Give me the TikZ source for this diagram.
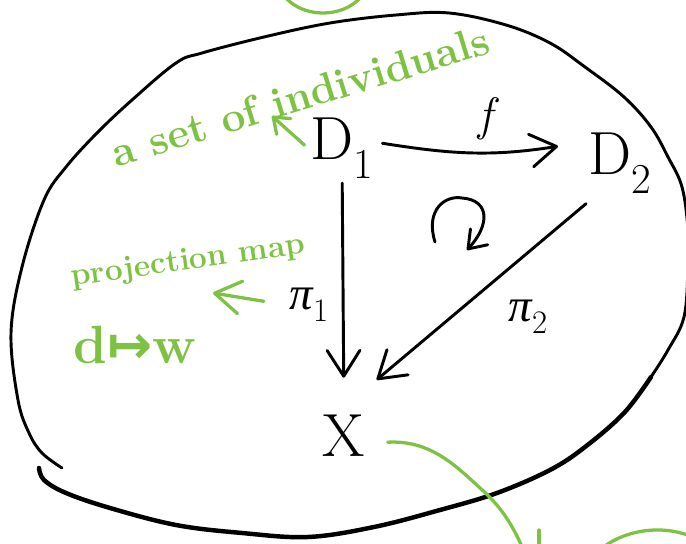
\documentclass[tikz,border=0pt]{standalone}
\usepackage{fontspec}
\usepackage{tikz}
\usepackage{xcolor}
\usetikzlibrary{calc}
\usetikzlibrary{arrows.meta}
\newfontfamily\greekfont{Liberation Serif}
\newfontfamily\arrowfont{DejaVu Sans}
\definecolor{pengreen}{RGB}{125,194,66}
\tikzset{>={Straight Barb[length=22pt,width=28pt,round]}}
\tikzstyle{blackink} = [line width=2.5pt, line cap=round, line join=round]
\tikzstyle{greenink} = [draw=pengreen, line width=2.8pt, line cap=round, line join=round]
\tikzstyle{arrow} = [blackink,->]
\tikzstyle{greenarrow} = [greenink,->]
\tikzstyle{smallgreenarrow} = [greenink,-{Straight Barb[length=12pt,width=18pt,round]}]
\tikzstyle{obj} = [font=\fontsize{52}{52}\selectfont, inner sep=2pt]
\tikzstyle{maplabel} = [font=\fontsize{40}{40}\selectfont, inner sep=2pt]
\tikzstyle{note} = [text=pengreen, inner sep=0pt]

\begin{document}
\begin{tikzpicture}[x=.03cm, y=-.03cm]
    \useasboundingbox (0,0) rectangle (686,544);
    \clip (0,0) rectangle (686,544);

    \draw[blackink] plot[smooth, tension=.6] coordinates {(62,468) (42,453) (29,433) (18,400) (11,333) (22,267) (44,200) (66,167) (97,133) (132,100) (176,63) (202,53) (264,37) (330,23) (396,15) (449,13) (506,25) (550,43) (585,67) (624,97) (651,127) (668,157) (682,187) (688,230) (688,267) (684,317) (668,350) (651,377)};
    \draw[blackink, line width=3.8pt] plot[smooth, tension=.6] coordinates {(651,377) (624,413) (585,447) (550,470) (497,493) (440,510) (374,527) (308,537) (242,533) (176,525) (110,508) (66,493) (44,480) (39,468)};

    \node[obj, anchor=base west] (d1) at (308,160) {D\textsubscript{1}};
    \node[obj, anchor=base west] (d2) at (586,175) {D\textsubscript{2}};
    \node[obj, anchor=base] (x) at (344,457) {X};
    \node[maplabel, anchor=base] (f) at (489,131) {\textit{f}};
    \node[maplabel, anchor=base west] (pi1) at (287,310) {{\greekfont\itshape π}\textsubscript{1}};
    \node[maplabel, anchor=base west] (pi2) at (506,322) {{\greekfont\itshape π}\textsubscript{2}};

    \draw[arrow] ($(d1.east)+(6,-5)$) to[out=-9, in=189] ($(d2.west)+(-28,-17)$);
    \draw[arrow, shorten <=2pt, shorten >=30pt] (d1.south) -- (x.north);
    \draw[arrow] ($(d2.south west)+(0,8)$) -- ($(x.north east)+(9,-33)$);
    \draw[blackink, -{Straight Barb[length=14pt,width=20pt,round]}] (435,242) .. controls (425,210) and (445,195) .. (462,198) .. controls (490,200) and (490,225) .. (467,250);

    \node[note, rotate=17, font=\bfseries\fontsize{36}{36}\selectfont] (setof) at (300,96) {a set of individuals};
    \node[note, rotate=8, font=\bfseries\fontsize{27}{27}\selectfont] (proj) at (188,262) {projection map};
    \node[note, font=\bfseries\fontsize{46}{46}\selectfont] (dmap) at (135,345) {d{\arrowfont ↦}w};
    \coordinate (setpoint) at (272,116);
    \coordinate (projpoint) at (213,293);
    \coordinate (xtail) at (528,560);
    \draw[smallgreenarrow, shorten <=4pt] (d1.west) -- (setpoint);
    \draw[greenarrow, shorten <=20pt] (pi1.west) -- (projpoint);
    \draw[greenink] ($(x.east)+(20,6)$) .. controls (430,440) and (455,465) .. (480,488) .. controls (505,510) and (515,530) .. (xtail);

    \draw[greenink] (323,-22) ellipse [x radius=45, y radius=35];
    \draw[greenink] (539,530) -- (539,550);
    \draw[greenink] (600,550) .. controls (620,532) and (660,522) .. (695,538);
\end{tikzpicture}
\end{document}
